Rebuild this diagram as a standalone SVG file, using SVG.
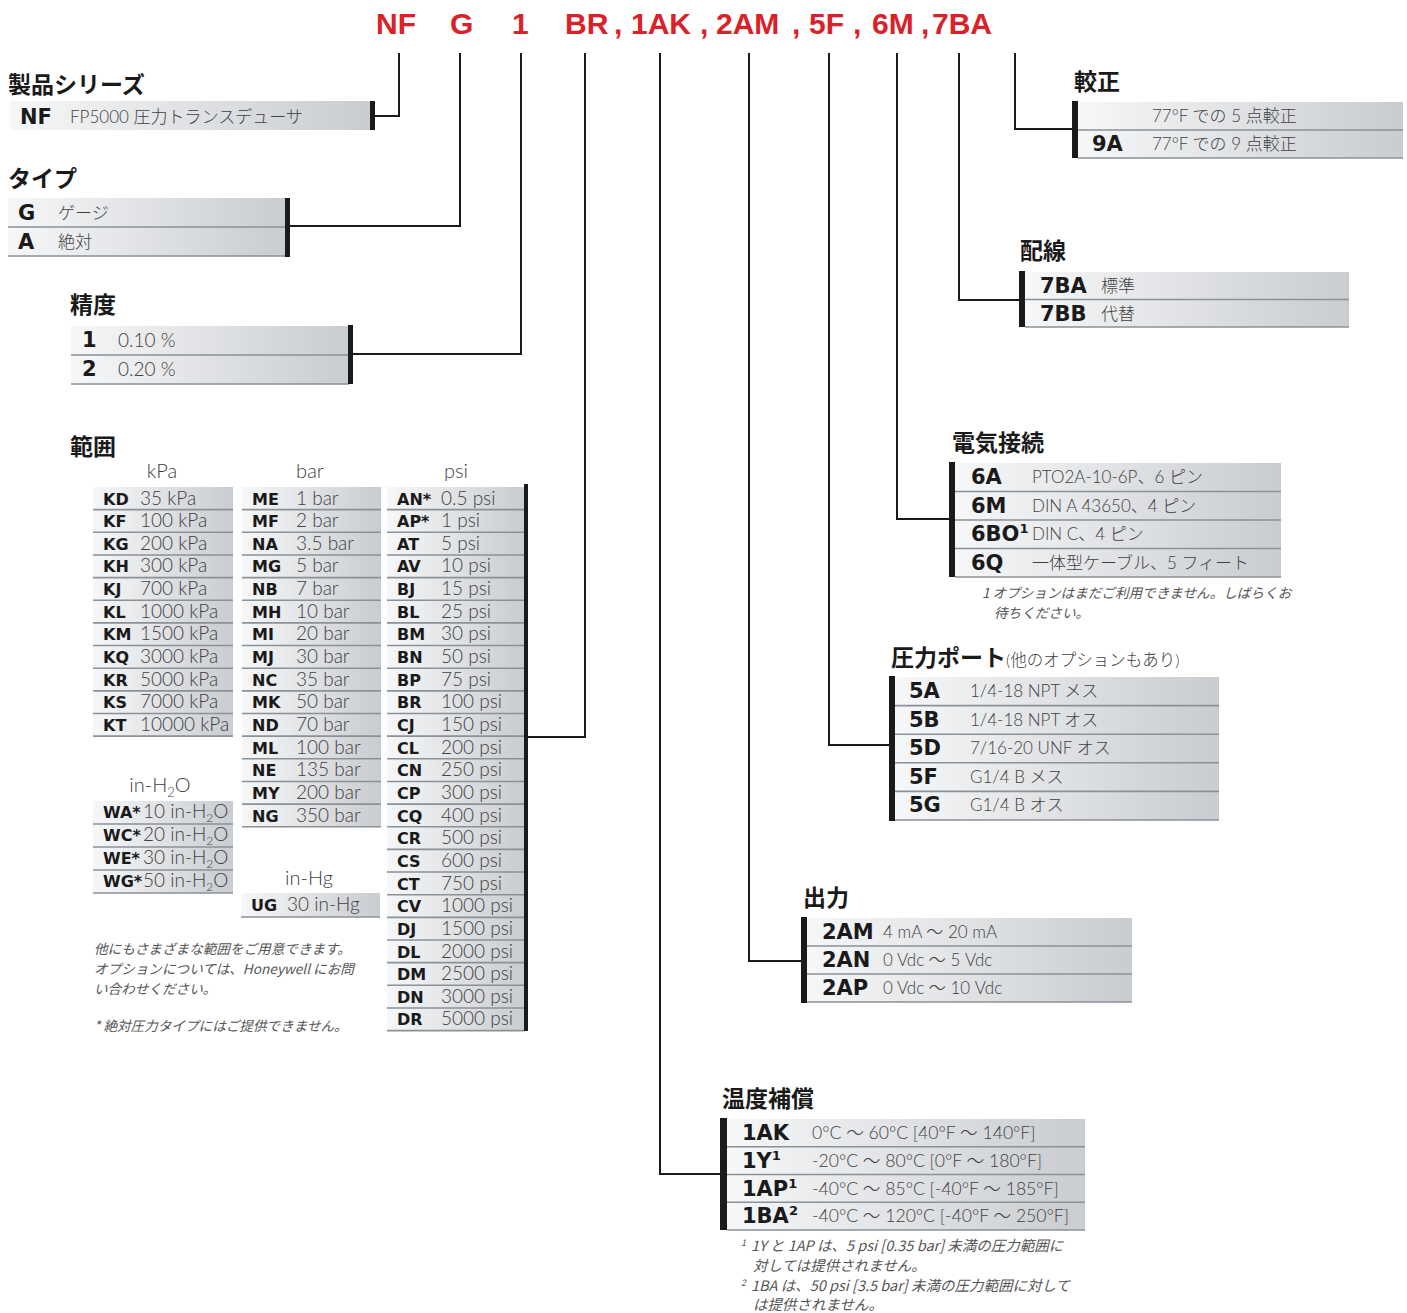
<svg xmlns="http://www.w3.org/2000/svg" width="1407" height="1313" viewBox="0 0 1407 1313">
<defs>
<linearGradient id="g" x1="0" y1="0" x2="1" y2="0">
<stop offset="0" stop-color="#f6f7f8"/>
<stop offset="1" stop-color="#c9ccd0"/>
</linearGradient>
<style>
.hd{font-family:"Liberation Sans",Arial,sans-serif;font-weight:700;font-size:30px;fill:#da2128}
.t{font-family:"Noto Sans CJK JP",sans-serif;font-weight:700;font-size:23px;fill:#1a1a1a}
.c{font-family:"DejaVu Sans",sans-serif;font-weight:700;font-size:21px;fill:#1a1a1a}
.cs{font-family:"DejaVu Sans",sans-serif;font-weight:700;font-size:16px;fill:#1a1a1a}
.d{font-family:Lato,"Noto Sans CJK JP",sans-serif;font-weight:300;font-size:17px;fill:#404040}
.dt{font-family:Lato,"Noto Sans CJK JP",sans-serif;font-weight:300;font-size:17.6px;fill:#404040}
.ds{font-family:Lato,"Noto Sans CJK JP",sans-serif;font-weight:300;font-size:19px;fill:#404040}
.u{font-family:Lato,"Noto Sans",sans-serif;font-weight:300;font-size:20px;fill:#404040;text-anchor:middle}
.n{font-family:"Noto Sans CJK JP",sans-serif;font-style:italic;font-size:13.6px;fill:#555}
.nt{font-family:"Noto Sans CJK JP",sans-serif;font-style:italic;font-size:14.5px;fill:#555}
.bg{fill:url(#g)}
.sep{stroke:#8c9196;stroke-width:1.6;fill:none}
.bar{fill:#1a1a1a}
.ln{stroke:#1a1a1a;stroke-width:2;fill:none}
</style>
</defs>
<rect width="1407" height="1313" fill="#fff"/>

<g id="header">
<text class="hd" x="376" y="34">NF</text>
<text class="hd" x="450" y="34">G</text>
<text class="hd" x="512" y="34">1</text>
<text class="hd" x="565" y="34">BR</text>
<text class="hd" x="614" y="34">,</text>
<text class="hd" x="631" y="34">1AK</text>
<text class="hd" x="700" y="34">,</text>
<text class="hd" x="716" y="34">2AM</text>
<text class="hd" x="792" y="34">,</text>
<text class="hd" x="809" y="34">5F</text>
<text class="hd" x="853" y="34">,</text>
<text class="hd" x="872" y="34">6M</text>
<text class="hd" x="921" y="34">,</text>
<text class="hd" x="932" y="34">7BA</text>
</g>

<g id="connectors" class="ln">
<path d="M399 53V116H372"/>
<path d="M460 53V226H288"/>
<path d="M521 53V354H351"/>
<path d="M585 53V737H527"/>
<path d="M660 53V1174H722"/>
<path d="M749 53V961H803"/>
<path d="M829 53V745H891"/>
<path d="M897 53V519H951"/>
<path d="M959 53V300H1021"/>
<path d="M1015 53V129H1074"/>
</g>

<g id="series">
<text class="t" x="8" y="93">製品シリーズ</text>
<rect class="bg" x="10" y="101" width="362" height="29"/>
<rect class="bar" x="370" y="101" width="5" height="29"/>
<text class="c" x="20" y="124">NF</text>
<text class="d" x="70" y="123">FP5000 圧力トランスデューサ</text>
</g>

<g id="type">
<text class="t" x="8" y="187">タイプ</text>
<rect class="bg" x="8" y="198" width="279" height="58"/>
<path class="sep" d="M8 227H286M8 256H286"/>
<rect class="bar" x="285" y="198" width="5" height="59"/>
<text class="c" x="18" y="220">G</text>
<text class="d" x="58" y="219">ゲージ</text>
<text class="c" x="18" y="249">A</text>
<text class="d" x="58" y="248">絶対</text>
</g>

<g id="accuracy">
<text class="t" x="70" y="313">精度</text>
<rect class="bg" x="71" y="326" width="279" height="58"/>
<path class="sep" d="M71 355H349M71 384H349"/>
<rect class="bar" x="348" y="325" width="5" height="59"/>
<text class="c" x="82" y="347">1</text>
<text class="ds" x="118" y="347">0.10 %</text>
<text class="c" x="82" y="376">2</text>
<text class="ds" x="118" y="376">0.20 %</text>
</g>

<g id="range">
<text class="t" x="70" y="455">範囲</text>
<text class="u" x="162" y="478">kPa</text>
<text class="u" x="310" y="478">bar</text>
<text class="u" x="456" y="478">psi</text>

<rect class="bg" x="93" y="487" width="140" height="249.15"/>
<path class="sep" d="M93 509.65H233M93 532.3H233M93 554.95H233M93 577.6H233M93 600.25H233M93 622.9H233M93 645.55H233M93 668.2H233M93 690.85H233M93 713.5H233M93 736.15H233"/>
<text class="cs" x="103" y="504.5">KD</text><text class="ds" x="140" y="504.5">35 kPa</text>
<text class="cs" x="103" y="527.15">KF</text><text class="ds" x="140" y="527.15">100 kPa</text>
<text class="cs" x="103" y="549.8">KG</text><text class="ds" x="140" y="549.8">200 kPa</text>
<text class="cs" x="103" y="572.45">KH</text><text class="ds" x="140" y="572.45">300 kPa</text>
<text class="cs" x="103" y="595.1">KJ</text><text class="ds" x="140" y="595.1">700 kPa</text>
<text class="cs" x="103" y="617.75">KL</text><text class="ds" x="140" y="617.75">1000 kPa</text>
<text class="cs" x="103" y="640.4">KM</text><text class="ds" x="140" y="640.4">1500 kPa</text>
<text class="cs" x="103" y="663.05">KQ</text><text class="ds" x="140" y="663.05">3000 kPa</text>
<text class="cs" x="103" y="685.7">KR</text><text class="ds" x="140" y="685.7">5000 kPa</text>
<text class="cs" x="103" y="708.35">KS</text><text class="ds" x="140" y="708.35">7000 kPa</text>
<text class="cs" x="103" y="731">KT</text><text class="ds" x="140" y="731">10000 kPa</text>

<rect class="bg" x="242" y="487" width="139" height="339.75"/>
<path class="sep" d="M242 509.65H381M242 532.3H381M242 554.95H381M242 577.6H381M242 600.25H381M242 622.9H381M242 645.55H381M242 668.2H381M242 690.85H381M242 713.5H381M242 736.15H381M242 758.8H381M242 781.45H381M242 804.1H381M242 826.75H381"/>
<text class="cs" x="252" y="504.5">ME</text><text class="ds" x="296" y="504.5">1 bar</text>
<text class="cs" x="252" y="527.15">MF</text><text class="ds" x="296" y="527.15">2 bar</text>
<text class="cs" x="252" y="549.8">NA</text><text class="ds" x="296" y="549.8">3.5 bar</text>
<text class="cs" x="252" y="572.45">MG</text><text class="ds" x="296" y="572.45">5 bar</text>
<text class="cs" x="252" y="595.1">NB</text><text class="ds" x="296" y="595.1">7 bar</text>
<text class="cs" x="252" y="617.75">MH</text><text class="ds" x="296" y="617.75">10 bar</text>
<text class="cs" x="252" y="640.4">MI</text><text class="ds" x="296" y="640.4">20 bar</text>
<text class="cs" x="252" y="663.05">MJ</text><text class="ds" x="296" y="663.05">30 bar</text>
<text class="cs" x="252" y="685.7">NC</text><text class="ds" x="296" y="685.7">35 bar</text>
<text class="cs" x="252" y="708.35">MK</text><text class="ds" x="296" y="708.35">50 bar</text>
<text class="cs" x="252" y="731">ND</text><text class="ds" x="296" y="731">70 bar</text>
<text class="cs" x="252" y="753.65">ML</text><text class="ds" x="296" y="753.65">100 bar</text>
<text class="cs" x="252" y="776.3">NE</text><text class="ds" x="296" y="776.3">135 bar</text>
<text class="cs" x="252" y="798.95">MY</text><text class="ds" x="296" y="798.95">200 bar</text>
<text class="cs" x="252" y="821.6">NG</text><text class="ds" x="296" y="821.6">350 bar</text>

<rect class="bg" x="387" y="487" width="138" height="543.6"/>
<path class="sep" d="M387 509.65H525M387 532.3H525M387 554.95H525M387 577.6H525M387 600.25H525M387 622.9H525M387 645.55H525M387 668.2H525M387 690.85H525M387 713.5H525M387 736.15H525M387 758.8H525M387 781.45H525M387 804.1H525M387 826.75H525M387 849.4H525M387 872.05H525M387 894.7H525M387 917.35H525M387 940H525M387 962.65H525M387 985.3H525M387 1007.95H525M387 1030.6H525"/>
<rect class="bar" x="524" y="484" width="4" height="547"/>
<text class="cs" x="397" y="504.5">AN*</text><text class="ds" x="441" y="504.5">0.5 psi</text>
<text class="cs" x="397" y="527.15">AP*</text><text class="ds" x="441" y="527.15">1 psi</text>
<text class="cs" x="397" y="549.8">AT</text><text class="ds" x="441" y="549.8">5 psi</text>
<text class="cs" x="397" y="572.45">AV</text><text class="ds" x="441" y="572.45">10 psi</text>
<text class="cs" x="397" y="595.1">BJ</text><text class="ds" x="441" y="595.1">15 psi</text>
<text class="cs" x="397" y="617.75">BL</text><text class="ds" x="441" y="617.75">25 psi</text>
<text class="cs" x="397" y="640.4">BM</text><text class="ds" x="441" y="640.4">30 psi</text>
<text class="cs" x="397" y="663.05">BN</text><text class="ds" x="441" y="663.05">50 psi</text>
<text class="cs" x="397" y="685.7">BP</text><text class="ds" x="441" y="685.7">75 psi</text>
<text class="cs" x="397" y="708.35">BR</text><text class="ds" x="441" y="708.35">100 psi</text>
<text class="cs" x="397" y="731">CJ</text><text class="ds" x="441" y="731">150 psi</text>
<text class="cs" x="397" y="753.65">CL</text><text class="ds" x="441" y="753.65">200 psi</text>
<text class="cs" x="397" y="776.3">CN</text><text class="ds" x="441" y="776.3">250 psi</text>
<text class="cs" x="397" y="798.95">CP</text><text class="ds" x="441" y="798.95">300 psi</text>
<text class="cs" x="397" y="821.6">CQ</text><text class="ds" x="441" y="821.6">400 psi</text>
<text class="cs" x="397" y="844.25">CR</text><text class="ds" x="441" y="844.25">500 psi</text>
<text class="cs" x="397" y="866.9">CS</text><text class="ds" x="441" y="866.9">600 psi</text>
<text class="cs" x="397" y="889.55">CT</text><text class="ds" x="441" y="889.55">750 psi</text>
<text class="cs" x="397" y="912.2">CV</text><text class="ds" x="441" y="912.2">1000 psi</text>
<text class="cs" x="397" y="934.85">DJ</text><text class="ds" x="441" y="934.85">1500 psi</text>
<text class="cs" x="397" y="957.5">DL</text><text class="ds" x="441" y="957.5">2000 psi</text>
<text class="cs" x="397" y="980.15">DM</text><text class="ds" x="441" y="980.15">2500 psi</text>
<text class="cs" x="397" y="1002.8">DN</text><text class="ds" x="441" y="1002.8">3000 psi</text>
<text class="cs" x="397" y="1025.45">DR</text><text class="ds" x="441" y="1025.45">5000 psi</text>

<text class="u" x="160" y="792">in-H<tspan font-size="13" dy="5">2</tspan><tspan dy="-5">O</tspan></text>
<rect class="bg" x="93" y="801" width="140" height="92"/>
<path class="sep" d="M93 824H233M93 847H233M93 870H233M93 893H233"/>
<text class="cs" x="103" y="818">WA*</text><text class="ds" x="143" y="818">10 in-H<tspan font-size="12" dy="4">2</tspan><tspan dy="-4">O</tspan></text>
<text class="cs" x="103" y="841">WC*</text><text class="ds" x="143" y="841">20 in-H<tspan font-size="12" dy="4">2</tspan><tspan dy="-4">O</tspan></text>
<text class="cs" x="103" y="864">WE*</text><text class="ds" x="143" y="864">30 in-H<tspan font-size="12" dy="4">2</tspan><tspan dy="-4">O</tspan></text>
<text class="cs" x="103" y="887">WG*</text><text class="ds" x="143" y="887">50 in-H<tspan font-size="12" dy="4">2</tspan><tspan dy="-4">O</tspan></text>

<text class="u" x="309" y="885">in-Hg</text>
<rect class="bg" x="241" y="893" width="139" height="24"/>
<path class="sep" d="M241 917H380"/>
<text class="cs" x="251" y="911">UG</text><text class="ds" x="287" y="911">30 in-Hg</text>

<text class="n" x="94" y="954">他にもさまざまな範囲をご用意できます。</text>
<text class="n" x="94" y="974">オプションについては、Honeywell にお問</text>
<text class="n" x="94" y="994">い合わせください。</text>
<text class="n" x="94" y="1031">* 絶対圧力タイプにはご提供できません。</text>
</g>

<g id="calibration">
<text class="t" x="1074" y="90">較正</text>
<rect class="bg" x="1078" y="102" width="325" height="56"/>
<path class="sep" d="M1078 130H1403M1078 158H1403"/>
<rect class="bar" x="1072" y="101" width="6" height="57"/>
<text class="d" x="1152" y="122">77°F での 5 点較正</text>
<text class="c" x="1092" y="151">9A</text>
<text class="d" x="1152" y="150">77°F での 9 点較正</text>
</g>

<g id="wiring">
<text class="t" x="1020" y="259">配線</text>
<rect class="bg" x="1025" y="272" width="324" height="55"/>
<path class="sep" d="M1025 299.5H1349M1025 327H1349"/>
<rect class="bar" x="1019" y="271" width="6" height="56"/>
<text class="c" x="1040" y="293">7BA</text>
<text class="d" x="1101" y="292">標準</text>
<text class="c" x="1040" y="320.5">7BB</text>
<text class="d" x="1101" y="319.5">代替</text>
</g>

<g id="electrical">
<text class="t" x="952" y="451">電気接続</text>
<rect class="bg" x="955" y="463" width="326" height="114"/>
<path class="sep" d="M955 491.5H1281M955 520H1281M955 548.5H1281M955 577H1281"/>
<rect class="bar" x="949" y="462" width="6" height="115"/>
<text class="c" x="971" y="484">6A</text><text class="d" x="1032" y="483">PTO2A-10-6P、6 ピン</text>
<text class="c" x="971" y="512.5">6M</text><text class="d" x="1032" y="511.5">DIN A 43650、4 ピン</text>
<text class="c" x="971" y="541">6BO<tspan font-size="13" dy="-8">1</tspan></text><text class="d" x="1032" y="540">DIN C、4 ピン</text>
<text class="c" x="971" y="569.5">6Q</text><text class="d" x="1032" y="568.5">一体型ケーブル、5 フィート</text>
<text class="n" x="982" y="598">1 オプションはまだご利用できません。しばらくお</text>
<text class="n" x="994" y="618">待ちください。</text>
</g>

<g id="port">
<text class="t" x="891" y="666">圧力ポート<tspan font-family="Lato, Noto Sans CJK JP, sans-serif" font-weight="300" font-size="16.5" fill="#404040">(他のオプションもあり)</tspan></text>
<rect class="bg" x="895" y="677" width="324" height="143"/>
<path class="sep" d="M895 705.6H1219M895 734.2H1219M895 762.8H1219M895 791.4H1219M895 820H1219"/>
<rect class="bar" x="889" y="676" width="6" height="145"/>
<text class="c" x="909" y="698">5A</text><text class="d" x="970" y="697">1/4-18 NPT メス</text>
<text class="c" x="909" y="726.6">5B</text><text class="d" x="970" y="725.6">1/4-18 NPT オス</text>
<text class="c" x="909" y="755.2">5D</text><text class="d" x="970" y="754.2">7/16-20 UNF オス</text>
<text class="c" x="909" y="783.8">5F</text><text class="d" x="970" y="782.8">G1/4 B メス</text>
<text class="c" x="909" y="812.4">5G</text><text class="d" x="970" y="811.4">G1/4 B オス</text>
</g>

<g id="output">
<text class="t" x="803" y="906">出力</text>
<rect class="bg" x="807" y="918" width="325" height="84"/>
<path class="sep" d="M807 946H1132M807 974H1132M807 1002H1132"/>
<rect class="bar" x="801" y="917" width="6" height="86"/>
<text class="c" x="822" y="939">2AM</text><text class="d" x="883" y="938">4 mA 〜 20 mA</text>
<text class="c" x="822" y="967">2AN</text><text class="d" x="883" y="966">0 Vdc 〜 5 Vdc</text>
<text class="c" x="822" y="995">2AP</text><text class="d" x="883" y="994">0 Vdc 〜 10 Vdc</text>
</g>

<g id="temperature">
<text class="t" x="722" y="1107">温度補償</text>
<rect class="bg" x="727" y="1119" width="358" height="111"/>
<path class="sep" d="M727 1146.75H1085M727 1174.5H1085M727 1202.25H1085M727 1230H1085"/>
<rect class="bar" x="720" y="1118" width="7" height="112"/>
<text class="c" x="742" y="1140">1AK</text><text class="dt" x="812" y="1139">0°C 〜 60°C [40°F 〜 140°F]</text>
<text class="c" x="742" y="1167.75">1Y<tspan font-size="13" dy="-8">1</tspan></text><text class="dt" x="812" y="1166.75">-20°C 〜 80°C [0°F 〜 180°F]</text>
<text class="c" x="742" y="1195.5">1AP<tspan font-size="13" dy="-8">1</tspan></text><text class="dt" x="812" y="1194.5">-40°C 〜 85°C [-40°F 〜 185°F]</text>
<text class="c" x="742" y="1223.25">1BA<tspan font-size="13" dy="-8">2</tspan></text><text class="dt" x="812" y="1222.25">-40°C 〜 120°C [-40°F 〜 250°F]</text>
<text class="nt" x="741" y="1251"><tspan font-size="9" dy="-5">1</tspan><tspan dx="5" dy="5">1Y と 1AP は、5 psi [0.35 bar] 未満の圧力範囲に</tspan></text>
<text class="nt" x="753" y="1271">対しては提供されません。</text>
<text class="nt" x="741" y="1291"><tspan font-size="9" dy="-5">2</tspan><tspan dx="5" dy="5">1BA は、50 psi [3.5 bar] 未満の圧力範囲に対して</tspan></text>
<text class="nt" x="753" y="1310">は提供されません。</text>
</g>
</svg>
